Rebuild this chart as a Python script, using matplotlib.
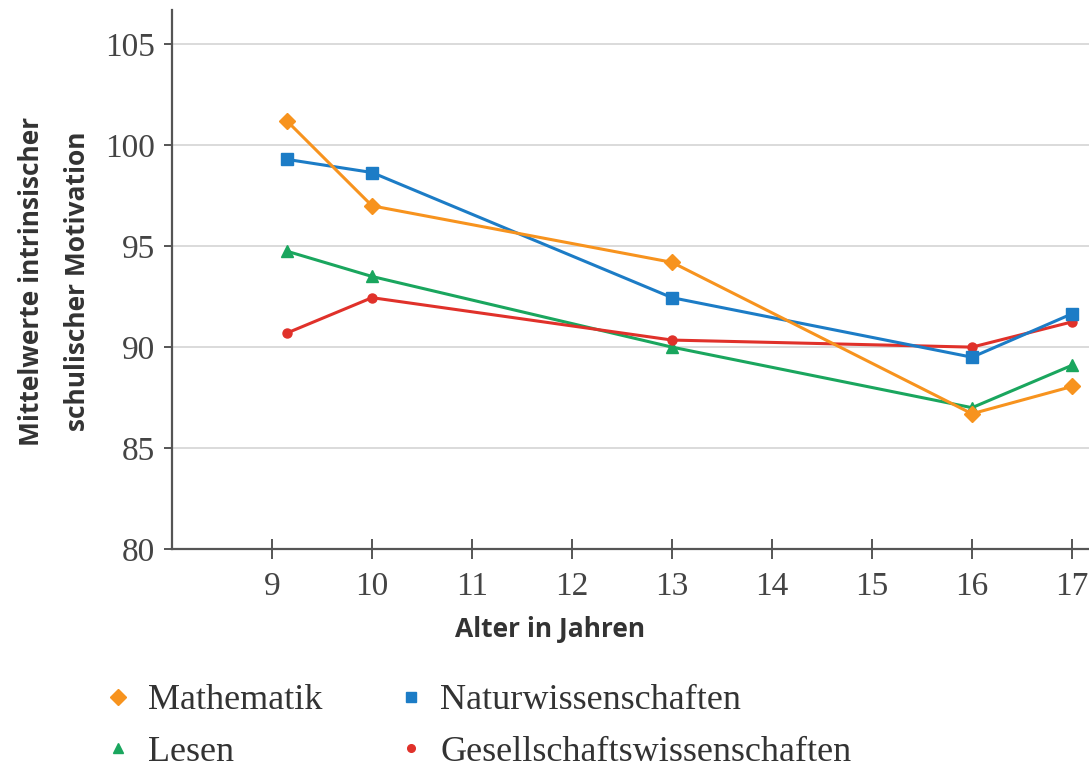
import matplotlib
matplotlib.use("Agg")
import matplotlib.pyplot as plt
from matplotlib.lines import Line2D

ages = [9.15, 10, 13, 16, 17]
mathematik = [101.2, 97.0, 94.2, 86.7, 88.05]
naturwiss = [99.3, 98.65, 92.45, 89.5, 91.65]
lesen = [94.75, 93.5, 90.0, 87.0, 89.1]
gesellschaft = [90.7, 92.45, 90.35, 90.0, 91.25]

labels = ["Mathematik", "Naturwissenschaften", "Lesen", "Gesellschaftswissenschaften"]
colors = {"Mathematik": "#F7931E", "Naturwissenschaften": "#1C7CC6",
          "Lesen": "#1AA65E", "Gesellschaftswissenschaften": "#E0312A"}
markers = {"Mathematik": "D", "Naturwissenschaften": "s",
           "Lesen": "^", "Gesellschaftswissenschaften": "o"}
msizes = {"Mathematik": 8, "Naturwissenschaften": 8,
          "Lesen": 8, "Gesellschaftswissenschaften": 6.5}

xticks = [9, 10, 11, 12, 13, 14, 15, 16, 17]
yticks = [80, 85, 90, 95, 100, 105]

W, H = 1089, 769
fig = plt.figure(figsize=(W / 100, H / 100), dpi=100)
ax = fig.add_axes([172 / W, 1 - 549 / H, (W - 172) / W, (549 - 10) / H])

series = {"Lesen": lesen, "Gesellschaftswissenschaften": gesellschaft,
          "Naturwissenschaften": naturwiss, "Mathematik": mathematik}
for name, vals in series.items():
    ax.plot(ages, vals, color=colors[name], marker=markers[name],
            markersize=msizes[name], linewidth=2.2, zorder=3)

ax.set_xlim(8, 17.17)
ax.set_ylim(80, 106.7)
ax.set_xticks(xticks)
ax.set_yticks(yticks)
for y in yticks[1:]:
    ax.axhline(y, color="#d4d4d4", linewidth=1.2, zorder=1)

for s in ["top", "right"]:
    ax.spines[s].set_visible(False)
for s in ["left", "bottom"]:
    ax.spines[s].set_color("#555555")
    ax.spines[s].set_linewidth(1.6)

serif = ["Liberation Serif", "DejaVu Serif"]
ax.tick_params(axis="x", direction="inout", length=14, width=1.4, color="#555555",
               pad=9, labelsize=24, labelcolor="#444444")
ax.tick_params(axis="y", direction="out", length=6, width=1.4, color="#555555",
               pad=6, labelsize=24, labelcolor="#444444")
for lab in ax.get_xticklabels() + ax.get_yticklabels():
    lab.set_fontfamily(serif)

sans = ["Open Sans", "DejaVu Sans"]
ax.set_xlabel("Alter in Jahren", fontsize=19, fontweight="bold", family=sans, color="#333333")
ax.xaxis.set_label_coords((550 - 172) / (W - 172), (549 - 616) / 539)
ax.set_ylabel("Mittelwerte intrinsischer\nschulischer Motivation", fontsize=19,
              fontweight="bold", family=sans, color="#333333", linespacing=1.9)
ax.yaxis.set_label_coords((91 - 172) / (W - 172), (549 - 281) / 539)

order = ["Mathematik", "Lesen", "Naturwissenschaften", "Gesellschaftswissenschaften"]
hsizes = {"Mathematik": 8, "Naturwissenschaften": 6.5,
          "Lesen": 6.5, "Gesellschaftswissenschaften": 5.5}
handles = [Line2D([], [], linestyle="none", marker=markers[n], color=colors[n],
                  markersize=hsizes[n]) for n in order]
leg = fig.legend(handles, order, loc="upper left", bbox_to_anchor=(100 / W, 1 - 684 / H),
                 ncol=2, frameon=False, handletextpad=0.32, columnspacing=1.95,
                 labelspacing=0.5, prop={"family": serif, "size": 26}, handlelength=1.0,
                 borderpad=0.0, borderaxespad=0.0)
for t in leg.get_texts():
    t.set_color("#333333")

fig.savefig("out.png", dpi=100)
